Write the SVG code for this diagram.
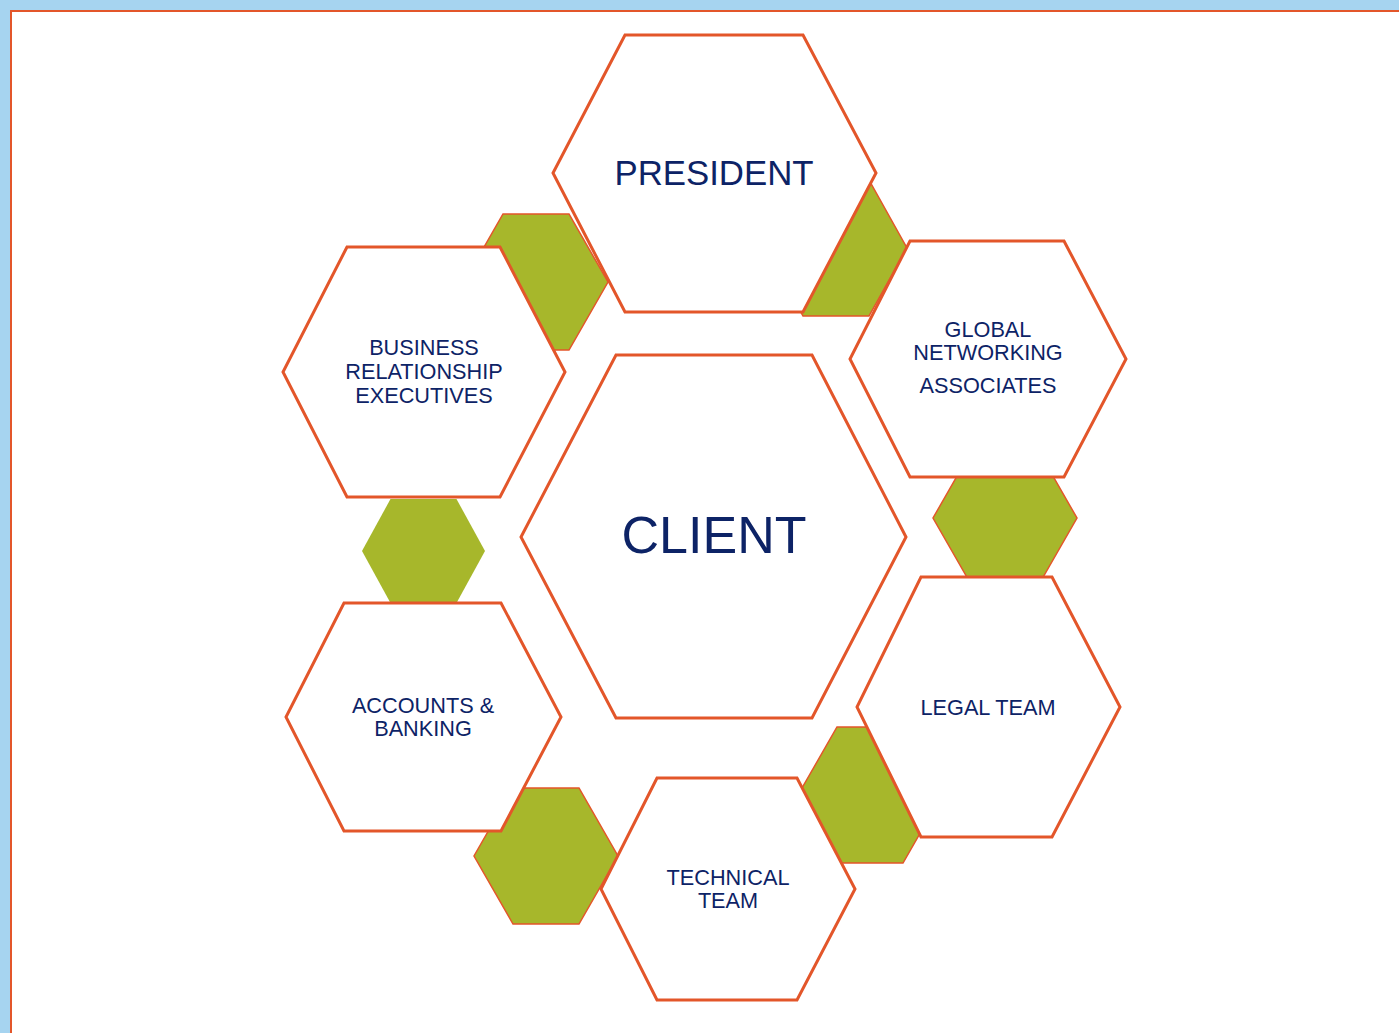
<svg xmlns="http://www.w3.org/2000/svg" width="1399" height="1033" viewBox="0 0 1399 1033">
<style>
.node{fill:#ffffff;stroke:#e3562a;stroke-width:3;stroke-linejoin:miter}
.link{fill:#a7b72b;stroke:#e3562a;stroke-width:1.5}
.link.plain{stroke:none}
text{font-family:"Liberation Sans",Arial,sans-serif;fill:#0d2366;text-anchor:middle}
.sm{font-size:21.7px}
</style>
<rect x="0" y="0" width="1399" height="1033" fill="#ffffff"/>
<rect x="0" y="0" width="1399" height="10" fill="#a6d4f0"/>
<rect x="0" y="0" width="10" height="1033" fill="#a6d4f0"/>
<path d="M11,1033 V11 H1399" fill="none" stroke="#e3562a" stroke-width="2"/>
<g id="connectors">
<polygon class="link" points="503,214 569,214 608,282 569,350 503,350 464,282"/>
<polygon class="link" points="803,180 869,180 907,248 869,316 803,316 765,248"/>
<polygon class="link plain" points="390.5,499 456.5,499 485,551 456.5,603 390.5,603 362,551"/>
<polygon class="link" points="972,450 1038,450 1077,518 1038,586 972,586 933,518"/>
<polygon class="link" points="837,727 903,727 942,795 903,863 837,863 798,795"/>
<polygon class="link" points="513,788 579,788 618,856 579,924 513,924 474,856"/>
</g>
<g id="president">
<polygon class="node" points="625,35 803,35 876,173 803,312 625,312 553,173"/>
<text x="714" y="185" font-size="34.8">PRESIDENT</text>
</g>
<g id="business">
<polygon class="node" points="347,247 500,247 565,372 500,497 347,497 283,372"/>
<text class="sm" x="424" y="355">BUSINESS</text>
<text class="sm" x="424" y="379">RELATIONSHIP</text>
<text class="sm" x="424" y="403">EXECUTIVES</text>
</g>
<g id="global">
<polygon class="node" points="910,241 1064,241 1126,359 1064,477 910,477 850,359"/>
<text class="sm" x="988" y="337">GLOBAL</text>
<text class="sm" x="988" y="360">NETWORKING</text>
<text class="sm" x="988" y="393">ASSOCIATES</text>
</g>
<g id="client">
<polygon class="node" points="616,355 812,355 906,537 812,718 616,718 521,537"/>
<text x="714" y="553" font-size="52">CLIENT</text>
</g>
<g id="accounts">
<polygon class="node" points="344,603 501,603 561,717 501,831 344,831 286,717"/>
<text class="sm" x="423" y="713">ACCOUNTS &amp;</text>
<text class="sm" x="423" y="736">BANKING</text>
</g>
<g id="legal">
<polygon class="node" points="921,577 1052,577 1120,707 1052,837 921,837 857,707"/>
<text class="sm" x="988" y="715">LEGAL TEAM</text>
</g>
<g id="technical">
<polygon class="node" points="657,778 797,778 855,889 797,1000 657,1000 601,889"/>
<text class="sm" x="728" y="885">TECHNICAL</text>
<text class="sm" x="728" y="908">TEAM</text>
</g>
</svg>
